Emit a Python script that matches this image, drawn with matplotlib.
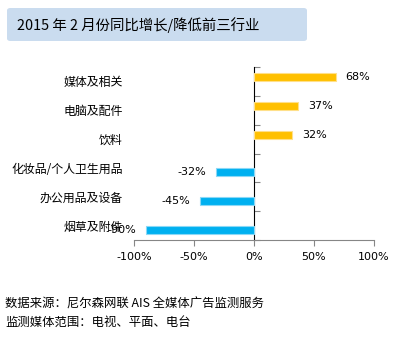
import numpy as np
import matplotlib
matplotlib.use("Agg")
import matplotlib.pyplot as plt
from matplotlib.patches import FancyBboxPatch
from matplotlib.ticker import FixedLocator, PercentFormatter

plt.rcParams['font.family'] = ['Noto Sans CJK SC', 'DejaVu Sans']
plt.rcParams['axes.unicode_minus'] = False

# industries, top to bottom
categories = ['媒体及相关', '电脑及配件', '饮料', '化妆品/个人卫生用品', '办公用品及设备', '烟草及附件']
growth = [68, 37, 32, -32, -45, -90]
title = '2015 年 2 月份同比增长/降低前三行业'
notes = ['数据来源：尼尔森网联 AIS 全媒体广告监测服务', '监测媒体范围：电视、平面、电台']

W, H = 406, 337
fig = plt.figure(figsize=(W / 100, H / 100), dpi=100)

# title box
box = FancyBboxPatch((7 / W, 1 - 41 / H), 300 / W, 33 / H,
                     boxstyle='round,pad=0,rounding_size=0.008',
                     transform=fig.transFigure, facecolor='#cadcef',
                     edgecolor='none')
fig.patches.append(box)
fig.text(17 / W, 1 - 25 / H, title, fontsize=10.4, va='center', ha='left')

ax = fig.add_axes([134 / W, 1 - 240 / H, 240 / W, 173 / H])

n = len(categories)
y = np.arange(n)[::-1].astype(float)
vals = np.array(growth, dtype=float)
pos = vals > 0
h = 0.28
off = 0.14
ax.barh(y[pos] + off, vals[pos], height=h, color='#ffc000',
        edgecolor='#ffe08a', linewidth=0.8)
ax.barh(y[~pos] - off, vals[~pos], height=h, color='#00b0f0',
        edgecolor='#8ad8f6', linewidth=0.8)

for yi, v, p in zip(y, vals, pos):
    yy = yi + off if p else yi - off
    ax.annotate(f'{v:.0f}%', (v, yy), xytext=(7 if p else -7, 0),
                textcoords='offset points', ha='left' if p else 'right',
                va='center', fontsize=8, family='DejaVu Sans')

ax.set_xlim(-100, 100)
ax.set_ylim(-0.5, n - 0.5)
ax.xaxis.set_major_locator(FixedLocator([-100, -50, 0, 50, 100]))
ax.xaxis.set_major_formatter(PercentFormatter(decimals=0))
for lab in ax.get_xticklabels():
    lab.set_family('DejaVu Sans')
ax.tick_params(axis='x', length=4, color='#868686', labelsize=8, pad=5)

ax.set_yticks(y)
ax.set_yticklabels(categories, fontsize=8.6)
ax.tick_params(axis='y', length=0, pad=8)

for s in ['top', 'right', 'left']:
    ax.spines[s].set_visible(False)
ax.spines['bottom'].set_color('#868686')

# value axis at zero, ticks between categories
sec = ax.secondary_yaxis(0.5)
sec.set_yticks(np.arange(n + 1) - 0.5)
sec.set_yticklabels([])
sec.tick_params(length=4, color='#868686')
sec.spines['left'].set_color('#868686')

fig.text(5 / W, 1 - 304 / H, notes[0], fontsize=8.9, va='center')
fig.text(5 / W, 1 - 322 / H, notes[1], fontsize=8.9, va='center')

fig.savefig('out.png', dpi=100)
